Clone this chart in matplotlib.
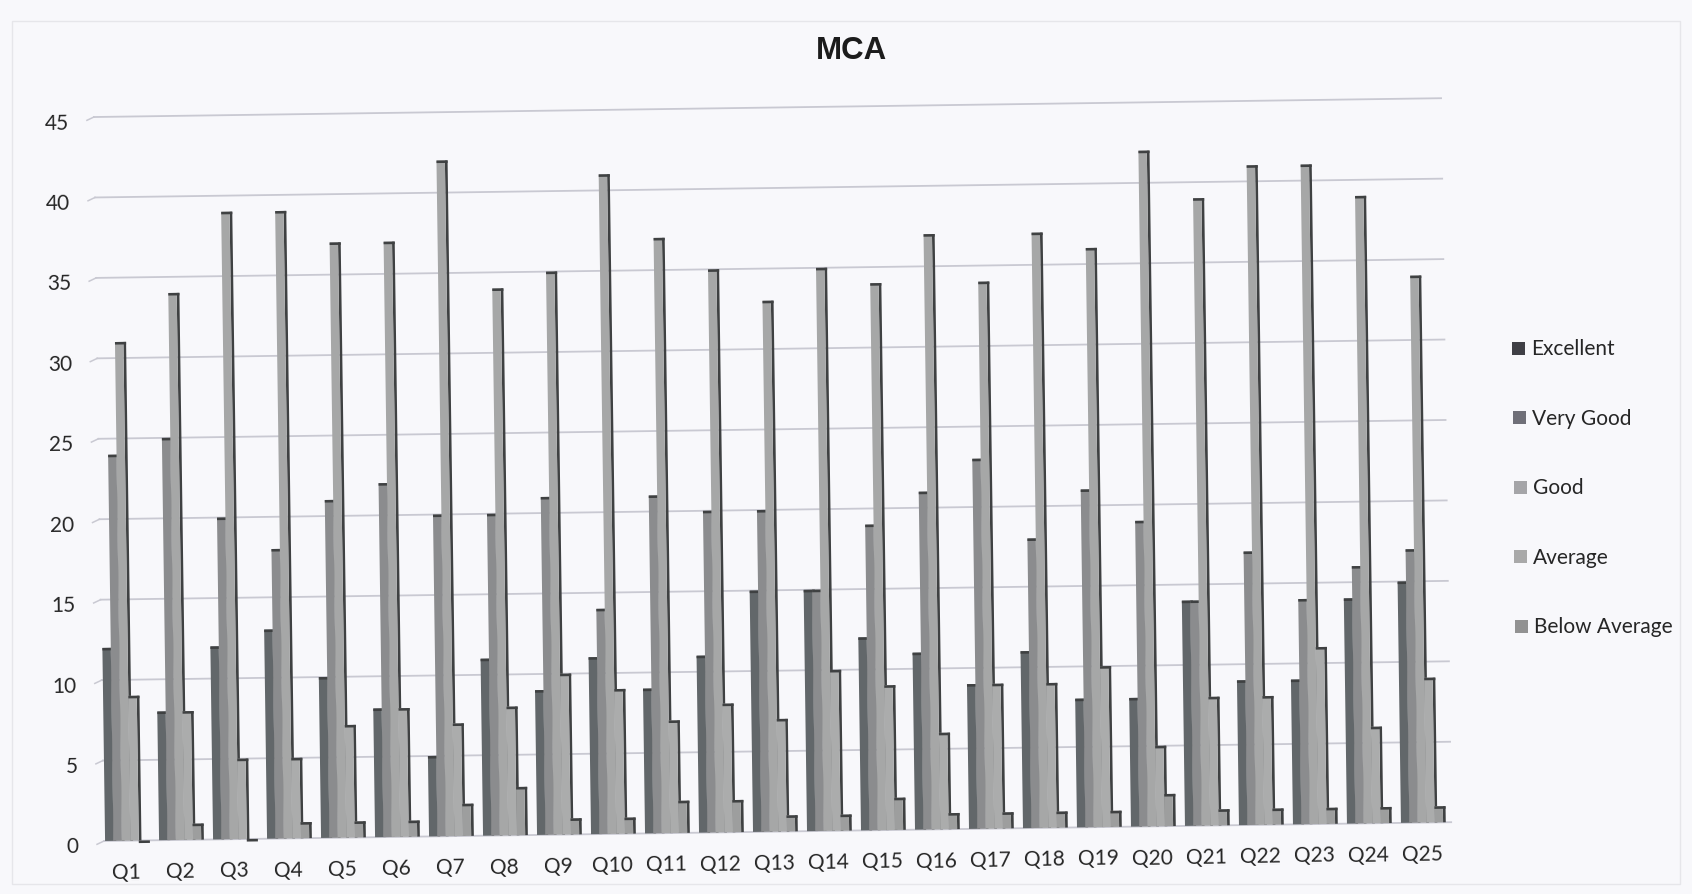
import matplotlib
matplotlib.use("Agg")
import numpy as np
import matplotlib.pyplot as plt
from matplotlib.patches import Rectangle
from matplotlib.transforms import Affine2D

questions = ["Q" + str(i) for i in range(1, 26)]
series_names = ["Excellent", "Very Good", "Good", "Average", "Below Average"]

excellent = [12, 8, 12, 13, 10, 8, 5, 11, 9, 11, 9, 11, 15, 15, 12, 11, 9, 11, 8, 8, 14, 9, 9, 14, 15]
very_good = [24, 25, 20, 18, 21, 22, 20, 20, 21, 14, 21, 20, 20, 15, 19, 21, 23, 18, 21, 19, 14, 17, 14, 16, 17]
good = [31, 34, 39, 39, 37, 37, 42, 34, 35, 41, 37, 35, 33, 35, 34, 37, 34, 37, 36, 42, 39, 41, 41, 39, 34]
average = [9, 8, 5, 5, 7, 8, 7, 8, 10, 9, 7, 8, 7, 10, 9, 6, 9, 9, 10, 5, 8, 8, 11, 6, 9]
below_average = [0, 1, 0, 1, 1, 1, 2, 3, 1, 1, 2, 2, 1, 1, 2, 1, 1, 1, 1, 2, 1, 1, 1, 1, 1]

y_ticks = [0, 5, 10, 15, 20, 25, 30, 35, 40, 45]

front_colours = ["#62676a", "#8b8c8e", "#a6a7a7", "#abacac", "#9d9e9e"]
legend_colours = ["#3f3f45", "#6f6f78", "#a5a5a8", "#a9a9a9", "#929292"]
side_colour = "#3f4142"
text_colour = "#262626"
grid_colour = "#c9c9d2"
W, H = 1692, 895

fig = plt.figure(figsize=(W / 100, H / 100), dpi=100, facecolor="#f8f8fb")
ax = fig.add_axes([104 / W, 53 / H, 1350 / W, 16.09 * 46 / H])
ax.set_axis_off()

# the scan is slightly tilted, so everything in the axes gets rotated a bit
tilt = 0.8
rot = ax.transData + Affine2D().rotate_deg_around(104, 53, tilt)

# faint page frame
fig.add_artist(Rectangle((12 / W, 10 / H), 1668 / W, 863 / H, transform=fig.transFigure,
                         fill=False, edgecolor="#e6e6ea", linewidth=1.0))

for tick in y_ticks:
    ax.plot([0, 24.95], [tick, tick], color=grid_colour, lw=1.3, transform=rot,
            clip_on=False, zorder=1)
    ax.plot([-0.13, 0], [tick - 0.2, tick], color=grid_colour, lw=1.1, transform=rot,
            clip_on=False, zorder=1)
    ax.text(-0.47, tick - 0.3, str(tick), ha="right", va="center", fontsize=15, family="Lato",
            color=text_colour, transform=rot, rotation=tilt, rotation_mode="anchor")

x = np.arange(len(questions))
step = 0.156
side = 0.05
all_series = [excellent, very_good, good, average, below_average]
for i, values in enumerate(all_series):
    left = x + 0.02 + i * step
    z = 3 + i
    tops = np.array(values) - 0.16
    ax.bar(left + step, values, width=side, align="edge", color=side_colour,
           transform=rot, clip_on=False, zorder=z)
    ax.bar(left, values, width=step, align="edge", color=front_colours[i],
           transform=rot, clip_on=False, zorder=z + 0.4)
    ax.bar(left, [0.16] * len(values), bottom=tops, width=step + side, align="edge",
           color=side_colour, transform=rot, clip_on=False, zorder=z + 0.5)

for i, name in enumerate(questions):
    ax.text(i + 0.41, -1.92, name, ha="center", va="center", fontsize=15, family="Lato",
            color=text_colour, transform=rot, rotation=tilt, rotation_mode="anchor")

ax.set_xlim(0, 25)
ax.set_ylim(0, 46)

fig.text(852 / W, 1 - 51 / H, "MCA", ha="center", va="center", fontsize=22.5, fontweight="bold",
         family="Liberation Sans", color="#1c1c1c")

# legend drawn by hand, it drifts with the tilt too
for i, name in enumerate(series_names):
    lx = 1512 + i * 0.8
    ly = 349 + i * 69.6
    fig.add_artist(Rectangle((lx / W, 1 - (ly + 6.5) / H), 13 / W, 13 / H, transform=fig.transFigure,
                             facecolor=legend_colours[i], edgecolor="none"))
    fig.text((lx + 19) / W, 1 - ly / H, name, ha="left", va="center", fontsize=15, family="Lato",
             color=text_colour)

fig.savefig("out.png", dpi=100, facecolor=fig.get_facecolor())
